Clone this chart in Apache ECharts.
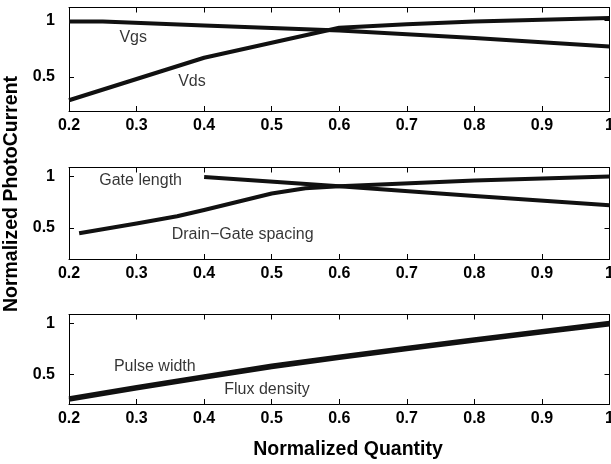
<!DOCTYPE html>
<html>
<head>
<meta charset="utf-8">
<script src="https://cdn.jsdelivr.net/npm/echarts@6/dist/echarts.min.js"></script>
<style>
  html, body { margin: 0; padding: 0; background: #fff; }
  #chart { width: 611px; height: 464px; }
</style>
</head>
<body>
<div id="chart"></div>
<script>
// x tick labels shared by all three panels
var xTickValues = [0.2, 0.3, 0.4, 0.5, 0.6, 0.7, 0.8, 0.9, 1.0];
var yTickValues = [0.5, 1];

// panel 1
var vgsData = [[0.2, 0.99], [0.25, 0.99], [0.4, 0.955], [0.6, 0.91], [0.8, 0.845], [1.0, 0.77]];
var vdsData = [[0.2, 0.295], [0.4, 0.67], [0.6, 0.935], [0.7, 0.965], [0.8, 0.99], [1.0, 1.02]];
// panel 2
var gateLengthData = [[0.4, 0.995], [0.6, 0.905], [0.8, 0.81], [1.0, 0.72]];
var drainGateData = [[0.215, 0.45], [0.3, 0.545], [0.36, 0.615], [0.4, 0.675], [0.5, 0.835], [0.55, 0.885], [0.6, 0.905], [0.8, 0.96], [1.0, 1.0]];
// panel 3
var pulseWidthData = [[0.2, 0.268], [0.3, 0.378], [0.4, 0.483], [0.5, 0.588], [0.6, 0.678], [0.7, 0.763], [0.8, 0.848], [0.9, 0.928], [1.0, 1.008]];
var fluxDensityData = [[0.2, 0.252], [0.3, 0.362], [0.4, 0.467], [0.5, 0.572], [0.6, 0.662], [0.7, 0.747], [0.8, 0.832], [0.9, 0.912], [1.0, 0.992]];

// text labels inside the panels: [x, y, text]
var panel1Labels = [[0.295, 0.844, 'Vgs'], [0.382, 0.456, 'Vds']];
var panel2Labels = [[0.306, 0.956, 'Gate length'], [0.457, 0.439, 'Drain\u2212Gate spacing']];
var panel3Labels = [[0.327, 0.574, 'Pulse width'], [0.493, 0.348, 'Flux density']];

var FONT = '"Liberation Sans", Arial, Helvetica, sans-serif';

var panels = [
  { top: 7.5, height: 103.5, min: 0.2, max: 1.113, lines: [['Vgs', vgsData], ['Vds', vdsData]], width: 4, labels: panel1Labels },
  { top: 167.5, height: 91.5, min: 0.2, max: 1.087, lines: [['Gate length', gateLengthData], ['Drain-Gate spacing', drainGateData]], width: 4, labels: panel2Labels },
  { top: 314.5, height: 89.5, min: 0.21, max: 1.09, lines: [['Pulse width', pulseWidthData], ['Flux density', fluxDensityData]], width: 4, labels: panel3Labels }
];

var grid = [], xAxis = [], yAxis = [], series = [];

panels.forEach(function (p, i) {
  grid.push({ left: 69, right: 1.5, top: p.top, height: p.height, outerBoundsMode: 'none' });

  // bottom axis with labels, top axis as the mirrored box edge
  xAxis.push({
    type: 'value', gridIndex: i, position: 'bottom', min: 0.2, max: 1.0, interval: 0.1,
    axisLine: { show: true, onZero: false, lineStyle: { color: '#000', width: 1 } },
    axisTick: { show: true, inside: true, length: 5, lineStyle: { color: '#000' } },
    axisLabel: { show: true, margin: 7, color: '#000', fontFamily: FONT, fontWeight: 'bold', fontSize: 16 },
    splitLine: { show: false }
  });
  xAxis.push({
    type: 'value', gridIndex: i, position: 'top', min: 0.2, max: 1.0, interval: 0.1,
    axisLine: { show: true, onZero: false, lineStyle: { color: '#000', width: 1 } },
    axisTick: { show: true, inside: true, length: 5, lineStyle: { color: '#000' } },
    axisLabel: { show: false },
    splitLine: { show: false }
  });

  yAxis.push({
    type: 'value', gridIndex: i, position: 'left', min: p.min, max: p.max,
    axisLine: { show: true, onZero: false, lineStyle: { color: '#000', width: 1 } },
    axisTick: { show: true, inside: true, length: 5, customValues: yTickValues, lineStyle: { color: '#000' } },
    axisLabel: { show: true, margin: 14, customValues: yTickValues, color: '#000', fontFamily: FONT, fontWeight: 'bold', fontSize: 16 },
    splitLine: { show: false }
  });
  yAxis.push({
    type: 'value', gridIndex: i, position: 'right', min: p.min, max: p.max,
    axisLine: { show: true, onZero: false, lineStyle: { color: '#000', width: 1 } },
    axisTick: { show: true, inside: true, length: 5, customValues: yTickValues, lineStyle: { color: '#000' } },
    axisLabel: { show: false },
    splitLine: { show: false }
  });

  p.lines.forEach(function (l) {
    series.push({
      name: l[0], type: 'line', xAxisIndex: i * 2, yAxisIndex: i * 2,
      data: l[1], showSymbol: false, symbol: 'none', smooth: false,
      lineStyle: { color: '#111', width: p.width, cap: 'butt', join: 'round' },
      silent: true, animation: false
    });
  });

  series.push({
    type: 'scatter', xAxisIndex: i * 2, yAxisIndex: i * 2,
    data: p.labels, symbolSize: 1, itemStyle: { color: 'transparent' },
    label: {
      show: true, position: 'inside', color: '#000', fontFamily: FONT, fontSize: 16,
      formatter: function (d) { return d.data[2]; }
    },
    silent: true, animation: false
  });
});

var chart = echarts.init(document.getElementById('chart'), null, { renderer: 'canvas' });
chart.setOption({
  backgroundColor: '#fff',
  animation: false,
  grid: grid,
  xAxis: xAxis,
  yAxis: yAxis,
  series: series,
  graphic: [
    {
      type: 'text', x: 348, y: 450,
      style: { text: 'Normalized Quantity', fill: '#000', font: 'bold 19.5px ' + FONT, align: 'center', verticalAlign: 'middle' }
    },
    {
      type: 'text', x: 12, y: 194, rotation: Math.PI / 2,
      style: { text: 'Normalized PhotoCurrent', fill: '#000', font: 'bold 19.5px ' + FONT, align: 'center', verticalAlign: 'middle' }
    }
  ]
});
</script>
</body>
</html>
